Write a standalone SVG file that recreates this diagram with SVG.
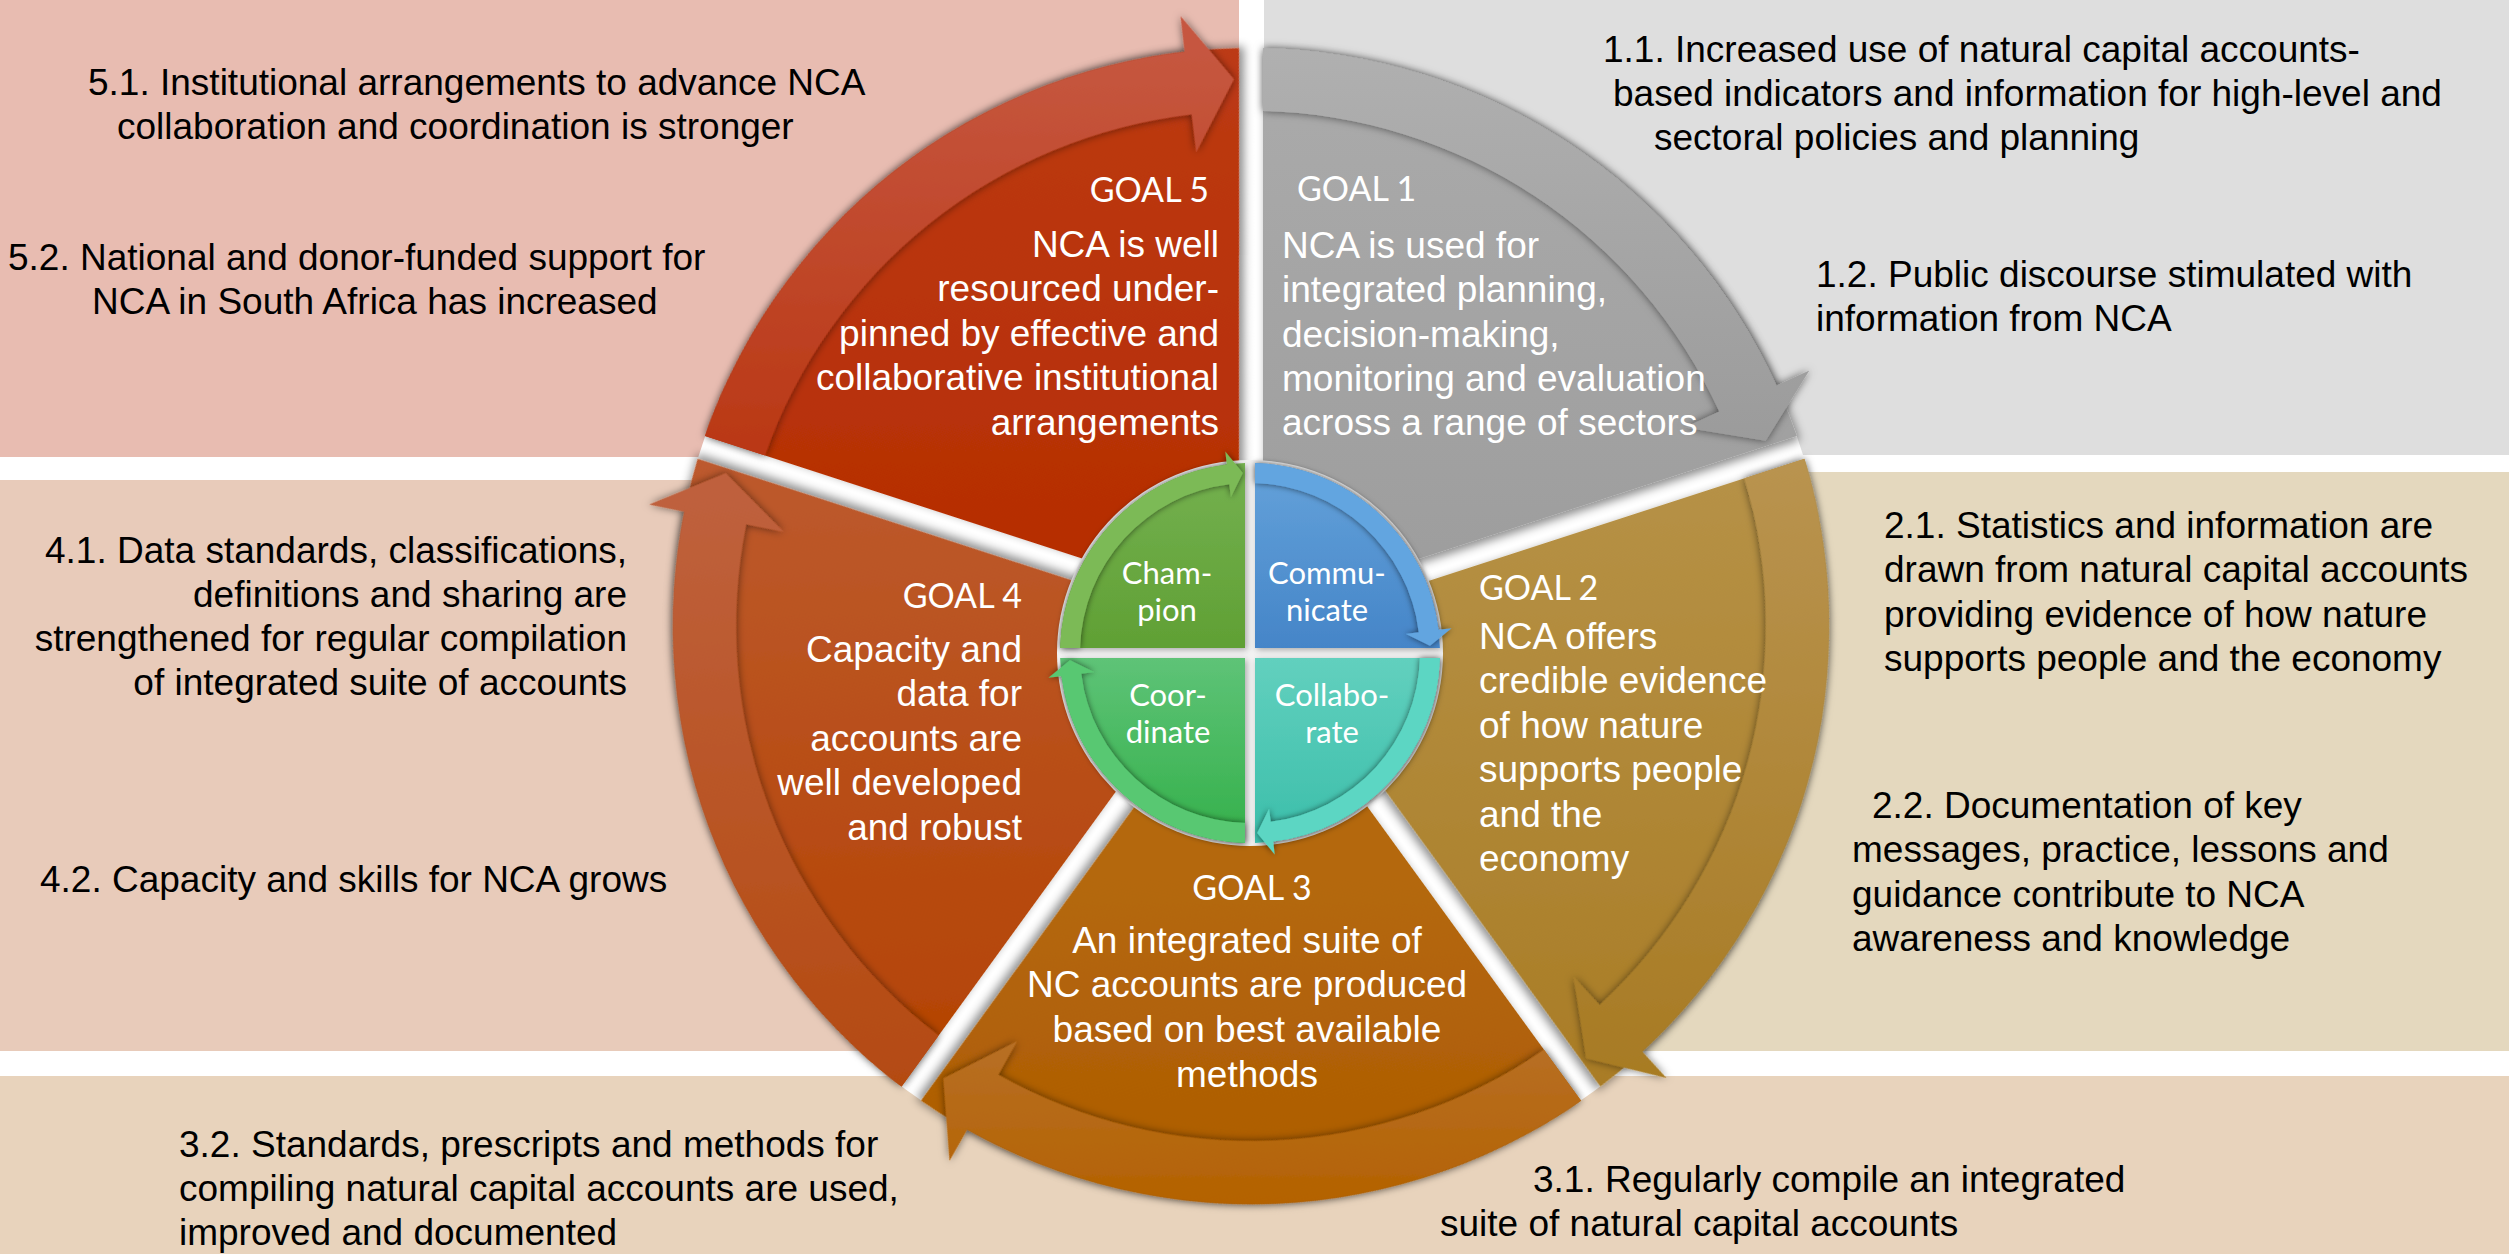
<svg xmlns="http://www.w3.org/2000/svg" xmlns:xlink="http://www.w3.org/1999/xlink" width="2509" height="1254" viewBox="0 0 2509 1254">
<style>
.d{font-family:"Liberation Sans",Arial,sans-serif;font-size:37px;fill:#000}
.w{font-family:"Liberation Sans",Arial,sans-serif;font-size:37px;fill:#fff}
.gl{font-family:Lato,"Open Sans",sans-serif;font-size:34px;fill:#fff}
.q{font-family:Lato,"Open Sans",sans-serif;font-size:31px;fill:#fff;text-anchor:middle}
.e{text-anchor:end}
.m{text-anchor:middle}
</style>
<defs>
<filter id="sh" x="-20%" y="-20%" width="140%" height="140%"><feDropShadow dx="3" dy="4" stdDeviation="5" flood-color="#000" flood-opacity="0.45"/></filter>
<filter id="bsh" x="-20%" y="-20%" width="140%" height="140%"><feDropShadow dx="0" dy="0" stdDeviation="4" flood-color="#000" flood-opacity="0.55"/></filter>
<filter id="rsh" x="-20%" y="-20%" width="140%" height="140%"><feDropShadow dx="0" dy="0" stdDeviation="3" flood-color="#000" flood-opacity="0.6"/></filter>
<filter id="qsh" x="-20%" y="-20%" width="140%" height="140%"><feDropShadow dx="2" dy="2" stdDeviation="3" flood-color="#000" flood-opacity="0.3"/></filter>
<path id="wedge" d="M12,-16.5 L12,-577.9 A578,578 0 0 1 545.9,-190 Z"/>
<path id="band" d="M12,-577.9 A578,578 0 0 1 525.5,-240.6 L558.3,-255.6 L514.7,-185.3 L433.7,-198.6 L468.3,-214.4 A515,515 0 0 0 12,-514.9 Z"/>
<path id="ring" d="M-189.93,-5 A190,190 0 0 1 -23.2,-188.6 L-24.7,-201.5 L-7.2,-179.9 L-19.1,-155.8 L-20.7,-168.7 A170,170 0 0 0 -169.93,-5 Z"/>
<linearGradient id="g1w" gradientUnits="userSpaceOnUse" x1="0" y1="-580" x2="0" y2="0"><stop offset="0" stop-color="#ABABAB"/><stop offset="1" stop-color="#9C9C9C"/></linearGradient>
<linearGradient id="g1b" gradientUnits="userSpaceOnUse" x1="0" y1="-580" x2="0" y2="-180"><stop offset="0" stop-color="#B0B0B0"/><stop offset="1" stop-color="#9B9B9B"/></linearGradient>
<linearGradient id="g2w" gradientUnits="userSpaceOnUse" x1="0" y1="-200" x2="0" y2="470" gradientTransform="rotate(-72)"><stop offset="0" stop-color="#B79349"/><stop offset="1" stop-color="#A97C25"/></linearGradient>
<linearGradient id="g2b" gradientUnits="userSpaceOnUse" x1="0" y1="-200" x2="0" y2="470" gradientTransform="rotate(-72)"><stop offset="0" stop-color="#BA9552"/><stop offset="1" stop-color="#A77A22"/></linearGradient>
<linearGradient id="g3w" gradientUnits="userSpaceOnUse" x1="0" y1="250" x2="0" y2="578" gradientTransform="rotate(-144)"><stop offset="0" stop-color="#B4680F"/><stop offset="1" stop-color="#AD5B00"/></linearGradient>
<linearGradient id="g3b" gradientUnits="userSpaceOnUse" x1="0" y1="380" x2="0" y2="578" gradientTransform="rotate(-144)"><stop offset="0" stop-color="#B8722E"/><stop offset="1" stop-color="#B46200"/></linearGradient>
<linearGradient id="g4w" gradientUnits="userSpaceOnUse" x1="0" y1="-200" x2="0" y2="470" gradientTransform="rotate(-216)"><stop offset="0" stop-color="#BD5B30"/><stop offset="1" stop-color="#B44200"/></linearGradient>
<linearGradient id="g4b" gradientUnits="userSpaceOnUse" x1="0" y1="-200" x2="0" y2="470" gradientTransform="rotate(-216)"><stop offset="0" stop-color="#C06342"/><stop offset="1" stop-color="#B44A10"/></linearGradient>
<linearGradient id="g5w" gradientUnits="userSpaceOnUse" x1="0" y1="-580" x2="0" y2="0" gradientTransform="rotate(-288)"><stop offset="0" stop-color="#BC3A14"/><stop offset="1" stop-color="#B52C00"/></linearGradient>
<linearGradient id="g5b" gradientUnits="userSpaceOnUse" x1="0" y1="-580" x2="0" y2="-150" gradientTransform="rotate(-288)"><stop offset="0" stop-color="#C65740"/><stop offset="1" stop-color="#B93612"/></linearGradient>
<linearGradient id="qc" x1="0" y1="0" x2="0" y2="1"><stop offset="0" stop-color="#74B150"/><stop offset="1" stop-color="#60A034"/></linearGradient>
<linearGradient id="qm" x1="0" y1="0" x2="0" y2="1"><stop offset="0" stop-color="#64A2DA"/><stop offset="1" stop-color="#4585C8"/></linearGradient>
<linearGradient id="qb" x1="0" y1="0" x2="0" y2="1"><stop offset="0" stop-color="#62D0BE"/><stop offset="1" stop-color="#3BBEAA"/></linearGradient>
<linearGradient id="qd" x1="0" y1="0" x2="0" y2="1"><stop offset="0" stop-color="#5EC377"/><stop offset="1" stop-color="#34B04A"/></linearGradient>
</defs>

<g id="panels">
<rect x="0" y="0" width="1239" height="457" fill="#E8BCB1"/>
<rect x="1264" y="0" width="1245" height="455" fill="#DEDEDE"/>
<rect x="0" y="480" width="1251" height="571" fill="#E8CBBA"/>
<rect x="1251" y="472" width="1258" height="579" fill="#E4D8BE"/>
<rect x="0" y="1076" width="2509" height="178" fill="#E8D3BC"/>
<circle cx="1251" cy="626" r="578" fill="#FFFFFF"/>
</g>

<g id="goal1">
<use xlink:href="#wedge" href="#wedge" transform="translate(1251 626)" fill="url(#g1w)" filter="url(#sh)"/>
<use xlink:href="#band" href="#band" transform="translate(1251 626)" fill="url(#g1b)" filter="url(#bsh)"/>
<text class="gl" x="1297" y="201">GOAL 1</text>
<text class="w" x="1282"><tspan x="1282" y="258">NCA is used for</tspan><tspan x="1282" y="302">integrated planning,</tspan><tspan x="1282" y="347">decision-making,</tspan><tspan x="1282" y="391">monitoring and evaluation</tspan><tspan x="1282" y="435">across a range of sectors</tspan></text>
</g>

<g id="goal2">
<use xlink:href="#wedge" href="#wedge" transform="translate(1251 626) rotate(72)" fill="url(#g2w)" filter="url(#sh)"/>
<use xlink:href="#band" href="#band" transform="translate(1251 626) rotate(72)" fill="url(#g2b)" filter="url(#bsh)"/>
<text class="gl" x="1479" y="600">GOAL 2</text>
<text class="w"><tspan x="1479" y="649">NCA offers</tspan><tspan x="1479" y="693">credible evidence</tspan><tspan x="1479" y="738">of how nature</tspan><tspan x="1479" y="782">supports people</tspan><tspan x="1479" y="827">and the</tspan><tspan x="1479" y="871">economy</tspan></text>
</g>

<g id="goal3">
<use xlink:href="#wedge" href="#wedge" transform="translate(1251 626) rotate(144)" fill="url(#g3w)" filter="url(#sh)"/>
<use xlink:href="#band" href="#band" transform="translate(1251 626) rotate(144)" fill="url(#g3b)" filter="url(#bsh)"/>
<text class="gl m" x="1252" y="900">GOAL 3</text>
<text class="w m"><tspan x="1247" y="953">An integrated suite of</tspan><tspan x="1247" y="997">NC accounts are produced</tspan><tspan x="1247" y="1042">based on best available</tspan><tspan x="1247" y="1087">methods</tspan></text>
</g>

<g id="goal4">
<use xlink:href="#wedge" href="#wedge" transform="translate(1251 626) rotate(216)" fill="url(#g4w)" filter="url(#sh)"/>
<use xlink:href="#band" href="#band" transform="translate(1251 626) rotate(216)" fill="url(#g4b)" filter="url(#bsh)"/>
<text class="gl e" x="1022" y="608">GOAL 4</text>
<text class="w e"><tspan x="1022" y="662">Capacity and</tspan><tspan x="1022" y="706">data for</tspan><tspan x="1022" y="751">accounts are</tspan><tspan x="1022" y="795">well developed</tspan><tspan x="1022" y="840">and robust</tspan></text>
</g>

<g id="goal5">
<use xlink:href="#wedge" href="#wedge" transform="translate(1251 626) rotate(288)" fill="url(#g5w)" filter="url(#sh)"/>
<use xlink:href="#band" href="#band" transform="translate(1251 626) rotate(288)" fill="url(#g5b)" filter="url(#bsh)"/>
<text class="gl e" x="1209" y="202">GOAL 5</text>
<text class="w e"><tspan x="1219" y="257">NCA is well</tspan><tspan x="1219" y="301">resourced under-</tspan><tspan x="1219" y="346">pinned by effective and</tspan><tspan x="1219" y="390">collaborative institutional</tspan><tspan x="1219" y="435">arrangements</tspan></text>
</g>

<g id="core">
<circle cx="1250" cy="653" r="193" fill="#F3F3F3"/>
<g id="champion">
<path d="M1245,648 L1060.1,648 A190,190 0 0 1 1245,463.1 Z" fill="url(#qc)" filter="url(#qsh)"/>
<text class="q"><tspan x="1167" y="584">Cham-</tspan><tspan x="1167" y="621">pion</tspan></text>
</g>
<g id="communicate">
<path d="M1255,648 L1255,463.1 A190,190 0 0 1 1439.9,648 Z" fill="url(#qm)" filter="url(#qsh)"/>
<text class="q"><tspan x="1327" y="584">Commu-</tspan><tspan x="1327" y="621">nicate</tspan></text>
</g>
<g id="collaborate">
<path d="M1255,658 L1439.9,658 A190,190 0 0 1 1255,842.9 Z" fill="url(#qb)" filter="url(#qsh)"/>
<text class="q"><tspan x="1332" y="706">Collabo-</tspan><tspan x="1332" y="743">rate</tspan></text>
</g>
<g id="coordinate">
<path d="M1245,658 L1245,842.9 A190,190 0 0 1 1060.1,658 Z" fill="url(#qd)" filter="url(#qsh)"/>
<text class="q"><tspan x="1168" y="706">Coor-</tspan><tspan x="1168" y="743">dinate</tspan></text>
</g>
</g>

<g id="connectors">
<use xlink:href="#ring" href="#ring" transform="translate(1250 653)" fill="#7CBA57" filter="url(#rsh)"/>
<use xlink:href="#ring" href="#ring" transform="translate(1250 653) rotate(90)" fill="#62A5E0" filter="url(#rsh)"/>
<use xlink:href="#ring" href="#ring" transform="translate(1250 653) rotate(180)" fill="#5CD6C3" filter="url(#rsh)"/>
<use xlink:href="#ring" href="#ring" transform="translate(1250 653) rotate(270)" fill="#58C872" filter="url(#rsh)"/>
</g>

<g id="outcomes5">
<text class="d"><tspan x="88" y="95">5.1. Institutional arrangements to advance NCA</tspan><tspan x="117" y="139">collaboration and coordination is stronger</tspan></text>
<text class="d"><tspan x="8" y="270">5.2. National and donor-funded support for</tspan><tspan x="92" y="314">NCA in South Africa has increased</tspan></text>
</g>
<g id="outcomes1">
<text class="d"><tspan x="1603" y="62">1.1. Increased use of natural capital accounts-</tspan><tspan x="1613" y="106">based indicators and information for high-level and</tspan><tspan x="1654" y="150">sectoral policies and planning</tspan></text>
<text class="d"><tspan x="1816" y="287">1.2. Public discourse stimulated with</tspan><tspan x="1816" y="331">information from NCA</tspan></text>
</g>
<g id="outcomes4">
<text class="d e"><tspan x="627" y="563">4.1. Data standards, classifications,</tspan><tspan x="627" y="607">definitions and sharing are</tspan><tspan x="627" y="651">strengthened for regular compilation</tspan><tspan x="627" y="695">of integrated suite of accounts</tspan></text>
<text class="d" x="40" y="892">4.2. Capacity and skills for NCA grows</text>
</g>
<g id="outcomes2">
<text class="d"><tspan x="1884" y="538">2.1. Statistics and information are</tspan><tspan x="1884" y="582">drawn from natural capital accounts</tspan><tspan x="1884" y="627">providing evidence of how nature</tspan><tspan x="1884" y="671">supports people and the economy</tspan></text>
<text class="d"><tspan x="1872" y="818">2.2. Documentation of key</tspan><tspan x="1852" y="862">messages, practice, lessons and</tspan><tspan x="1852" y="907">guidance contribute to NCA</tspan><tspan x="1852" y="951">awareness and knowledge</tspan></text>
</g>
<g id="outcomes3">
<text class="d"><tspan x="179" y="1157">3.2. Standards, prescripts and methods for</tspan><tspan x="179" y="1201">compiling natural capital accounts are used,</tspan><tspan x="179" y="1245">improved and documented</tspan></text>
<text class="d"><tspan x="1533" y="1192">3.1. Regularly compile an integrated</tspan><tspan x="1440" y="1236">suite of natural capital accounts</tspan></text>
</g>
</svg>
